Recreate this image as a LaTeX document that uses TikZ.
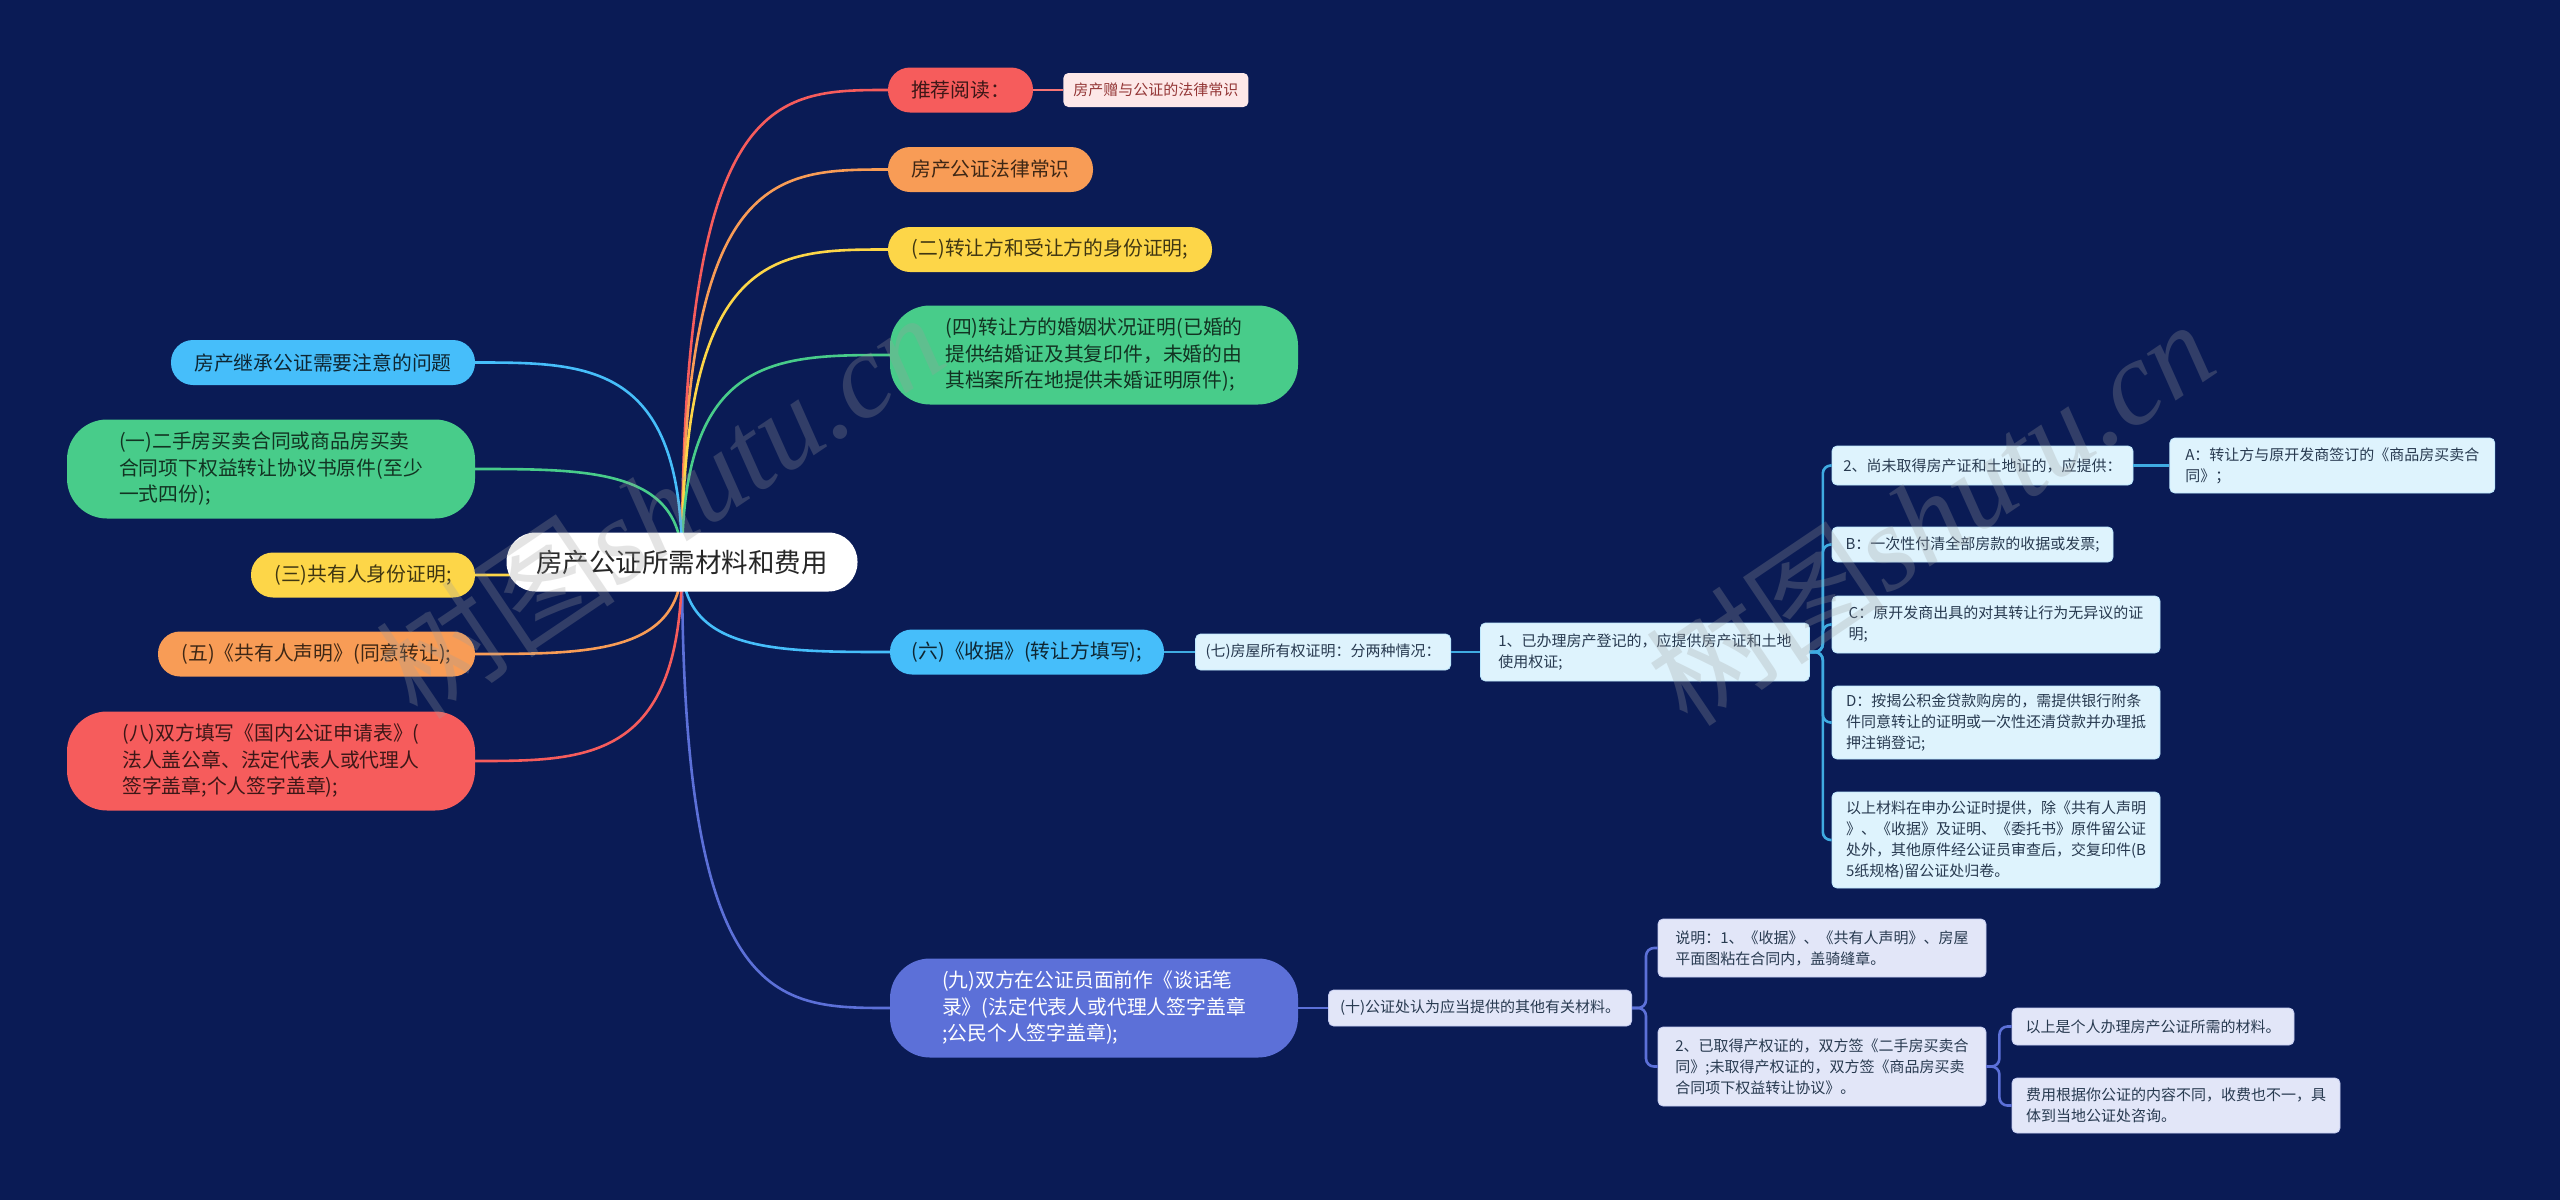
\documentclass[tikz,border=0pt]{standalone}
\usepackage{fontspec}
\setmainfont{Noto Sans CJK SC}
\newfontfamily\wmlatin{Liberation Serif}
\usepackage{xcolor}
\definecolor{mapbg}{RGB}{10,27,85}
\definecolor{tred}{RGB}{246,92,92}
\definecolor{torange}{RGB}{248,156,86}
\definecolor{tyellow}{RGB}{253,214,72}
\definecolor{tgreen}{RGB}{72,204,138}
\definecolor{tblue}{RGB}{70,190,250}
\definecolor{tpurple}{RGB}{92,112,216}
\definecolor{paleblue}{RGB}{222,243,253}
\definecolor{palelav}{RGB}{226,230,248}
\definecolor{palepink}{RGB}{253,232,232}
\definecolor{notetext}{RGB}{40,58,80}
\usepackage{tikz}
\usetikzlibrary{positioning, calc}

\begin{document}
\begin{tikzpicture}[
  x=1pt, y=-1pt,
  main/.style={rectangle, rounded corners=29pt, fill=white, text=black!85,
               minimum width=351pt, minimum height=59pt,
               font=\fontsize{26.5}{30}\selectfont},
  topic/.style={rectangle, rounded corners=22pt, minimum height=45pt,
                align=left, font=\fontsize{19.8}{26.5}\selectfont},
  bigtopic/.style={topic, rounded corners=40pt, minimum width=408pt,
                   minimum height=99pt},
  recnote/.style={rectangle, rounded corners=5pt, fill=palepink,
                  text=tred!60!black, minimum width=185pt, minimum height=34pt,
                  font=\fontsize{15}{18}\selectfont},
  note/.style={rectangle, rounded corners=5pt, fill=paleblue, draw=tblue!35,
               line width=0.8pt, text=notetext, align=left,
               font=\fontsize{15}{21}\selectfont},
  subnote/.style={note, fill=palelav, draw=tpurple!35},
  link/.style={line width=2.6pt,
               to path={.. controls (\tikztostart |- \tikztotarget)
                 and ($(\tikztostart |- \tikztotarget)!0.45!(\tikztotarget)$)
                 .. (\tikztotarget)}},
  bus/.style={line width=2.6pt, rounded corners=8pt},
  wmark/.style={text=white!62!black, text opacity=0.27, rotate=34,
                font=\fontsize{120}{120}\selectfont},
]

% Background
\fill[mapbg] (0,0) rectangle (2560,1200);
\useasboundingbox (0,0) rectangle (2560,1200);
\coordinate (rc) at (682,562);

% Right branches
\node[topic, fill=tred, text=tred!25!black, minimum width=145pt] (tj) at (960.5,90) {推荐阅读：};
\node[recnote, right=30pt of tj] (tjs) {房产赠与公证的法律常识};
\node[topic, fill=torange, text=torange!25!black, minimum width=205pt] (fl) at (990.5,169.5) {房产公证法律常识};
\node[topic, fill=tyellow, text=tyellow!25!black, minimum width=324pt] (n2) at (1050,249.5) {(二)转让方和受让方的身份证明;};
\node[bigtopic, fill=tgreen, text=tgreen!25!black] (n4) at (1094,355)
  {(四)转让方的婚姻状况证明(已婚的\\提供结婚证及其复印件，未婚的由\\其档案所在地提供未婚证明原件);};
\node[topic, fill=tblue, text=tblue!20!black, minimum width=274pt] (n6) at (1027,652) {(六)《收据》(转让方填写);};
\node[bigtopic, fill=tpurple, text=white] (n9) at (1094,1008)
  {(九)双方在公证员面前作《谈话笔\\录》(法定代表人或代理人签字盖章\\;公民个人签字盖章);};

% Left branches
\node[topic, fill=tblue, text=tblue!20!black, minimum width=304pt] (jc) at (323,362.5) {房产继承公证需要注意的问题};
\node[bigtopic, fill=tgreen, text=tgreen!25!black] (n1) at (271,469)
  {(一)二手房买卖合同或商品房买卖\\合同项下权益转让协议书原件(至少\\一式四份);};
\node[topic, fill=tyellow, text=tyellow!25!black, minimum width=224pt] (n3) at (363,575) {(三)共有人身份证明;};
\node[topic, fill=torange, text=torange!25!black, minimum width=317pt] (n5) at (316.5,654) {(五)《共有人声明》(同意转让);};
\node[bigtopic, fill=tred, text=tred!25!black] (n8) at (271,761)
  {(八)双方填写《国内公证申请表》(\\法人盖公章、法定代表人或代理人\\签字盖章;个人签字盖章);};

% Notes under (六)
\node[note, minimum width=255pt, minimum height=36pt, right=31pt of n6] (n7) {(七)房屋所有权证明：分两种情况：};
\node[note, minimum width=329pt, minimum height=58pt, right=29pt of n7] (n7a)
  {1、已办理房产登记的，应提供房产证和土地\\使用权证;};
\node[note, minimum width=301pt, minimum height=39pt] (n7b) at (1982.5,465.5) {2、尚未取得房产证和土地证的，应提供：};
\node[note, minimum width=325pt, minimum height=55pt, right=36pt of n7b] (n7ba)
  {A：转让方与原开发商签订的《商品房买卖合\\同》；};
\node[note, minimum width=281pt, minimum height=35pt] (n7c) at (1972.5,544.5) {B：一次性付清全部房款的收据或发票;};
\node[note, minimum width=328pt, minimum height=57pt] (n7d) at (1996,624.5)
  {C：原开发商出具的对其转让行为无异议的证\\明;};
\node[note, minimum width=328pt, minimum height=73pt] (n7e) at (1996,722.5)
  {D：按揭公积金贷款购房的，需提供银行附条\\件同意转让的证明或一次性还清贷款并办理抵\\押注销登记;};
\node[note, minimum width=328pt, minimum height=96pt] (n7f) at (1996,840)
  {以上材料在申办公证时提供，除《共有人声明\\》、《收据》及证明、《委托书》原件留公证\\处外，其他原件经公证员审查后，交复印件(B\\5纸规格)留公证处归卷。};

% Notes under (九)
\node[subnote, minimum width=303pt, minimum height=36pt, right=30pt of n9] (n10) {(十)公证处认为应当提供的其他有关材料。};
\node[subnote, minimum width=328pt, minimum height=58pt] (n10a) at (1822,948)
  {说明：1、《收据》、《共有人声明》、房屋\\平面图粘在合同内，盖骑缝章。};
\node[subnote, minimum width=328pt, minimum height=79pt] (n10b) at (1822,1066.5)
  {2、已取得产权证的，双方签《二手房买卖合\\同》;未取得产权证的，双方签《商品房买卖\\合同项下权益转让协议》。};
\node[subnote, minimum width=282pt, minimum height=37pt] (n10ba) at (2153,1026.5) {以上是个人办理房产公证所需的材料。};
\node[subnote, minimum width=328pt, minimum height=55pt] (n10bb) at (2176,1105.5)
  {费用根据你公证的内容不同，收费也不一，具\\体到当地公证处咨询。};

% Edges from the centre
\draw[link, tred] (rc) to (tj.west);
\draw[link, torange] (rc) to (fl.west);
\draw[link, tyellow] (rc) to (n2.west);
\draw[link, tgreen] (rc) to (n4.west);
\draw[link, tblue] (rc) to (n6.west);
\draw[link, tpurple] (rc) to (n9.west);
\draw[link, tblue] (rc) to (jc.east);
\draw[link, tgreen] (rc) to (n1.east);
\draw[link, tyellow] (rc) to (n3.east);
\draw[link, torange] (rc) to (n5.east);
\draw[link, tred] (rc) to (n8.east);
\node[main] (root) at (rc) {房产公证所需材料和费用};

% Edges between notes
\draw[bus, tred!85] (tj) -- (tjs);
\draw[bus, tblue!90!black] (n6) -- (n7);
\draw[bus, tblue!90!black] (n7) -- (n7a);
\draw[bus, tblue!90!black] (n7b) -- (n7ba);
\foreach \c in {n7b,n7c,n7d,n7e,n7f}
  \draw[bus, tblue!90!black] (n7a.east) -- ++(13,0) |- (\c.west);
\draw[bus, tpurple] (n9) -- (n10);
\foreach \c in {n10a,n10b}
  \draw[bus, tpurple] (n10.east) -- ++(14,0) |- (\c.west);
\foreach \c in {n10ba,n10bb}
  \draw[bus, tpurple] (n10b.east) -- ++(13,0) |- (\c.west);

% Watermarks
\node[wmark] (wm1) at (660,505) {树图{\wmlatin\itshape shutu.cn}};
\node[wmark] (wm2) at (1930,512) {树图{\wmlatin\itshape shutu.cn}};

\end{tikzpicture}
\end{document}
